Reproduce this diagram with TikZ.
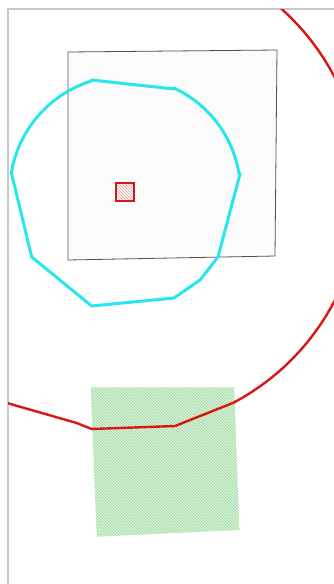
\documentclass[tikz,border=0pt]{standalone}
\usetikzlibrary{patterns}
\definecolor{framegray}{RGB}{200,200,200}
\definecolor{rectgray}{RGB}{80,80,80}
\definecolor{rectfill}{RGB}{251,251,251}
\definecolor{cyanline}{RGB}{40,230,235}
\definecolor{redline}{RGB}{220,20,20}
\definecolor{greenfill}{RGB}{218,243,218}
\definecolor{greenhatch}{RGB}{150,215,150}
\definecolor{pinkhatch}{RGB}{225,150,150}
\begin{document}
\begin{tikzpicture}[x=1pt,y=-1pt,
  framestyle/.style={draw=framegray,line width=1.3pt},
  boxstyle/.style={draw=rectgray,line width=0.8pt,fill=rectfill},
  ringstyle/.style={draw=cyanline,line width=3pt,line join=round},
  bigcircle/.style={draw=redline,line width=2.4pt,line join=round},
  smallsq/.style={draw=redline,line width=2.4pt,preaction={fill=white},pattern=north west lines,pattern color=pinkhatch},
  greensq/.style={preaction={fill=greenfill},pattern=north west lines,pattern color=greenhatch}
]
\useasboundingbox (0,0) rectangle (334,584);
\begin{scope}
\clip (0,0) rectangle (334,584);
% outer frame
\draw[framestyle] (8,9) rectangle (400,640);
% gray square
\draw[boxstyle] (68,52) -- (277,50) -- (275,256) -- (68,260) -- cycle;
% cyan ring
\draw[ringstyle] (91.7,80) -- (174,89)
  -- plot[domain=-65:-9,samples=14] ({126+114.5*cos(\x)},{192+114.5*sin(\x)})
  -- (240,174) -- (218,257) -- (200,280) -- (174,298) -- (91.7,306) -- (31.7,257)
  -- (11.7,174)
  -- plot[domain=189:253,samples=16] ({126+116.3*cos(\x)},{192+116.3*sin(\x)})
  -- cycle;
% small red square
\draw[smallsq] (116,183) rectangle (134,201);
% green square
\path[greensq] (90.7,387.3) -- (234.3,387.3) -- (239.3,530) -- (96.7,536.7) -- cycle;
% big red ring clipped to frame
\begin{scope}
\clip (8,9) rectangle (400,640);
\draw[bigcircle] plot[domain=-85:62,samples=60] ({120+242*cos(\x)},{189+242*sin(\x)})
  -- (175,426) -- (91.7,429) -- (76.7,423) -- (8,403.3) -- (0,401);
\end{scope}
\end{scope}
\end{tikzpicture}
\end{document}
